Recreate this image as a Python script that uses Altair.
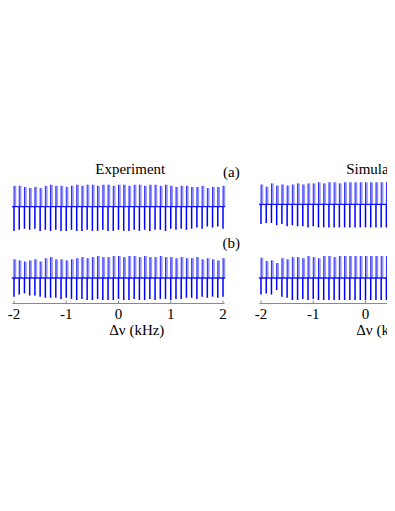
import altair as alt
import pandas as pd

# comb line frequencies (kHz)
freq = [round(-2 + 0.1 * i, 1) for i in range(41)]

# Experiment, trace (a): upward / downward excursions
exp_a_up = [0.95,0.95,0.9,0.85,0.9,0.85,0.95,1.0,0.95,0.95,0.9,0.95,1.0,0.95,1.0,1.0,0.95,1.0,1.0,0.95,1.0,
            1.0,0.95,1.0,1.0,0.95,1.0,1.0,0.95,1.0,0.95,0.9,0.95,0.95,0.9,0.9,0.95,0.85,0.9,0.9,0.95]
exp_a_dn = [1.1,1.05,1.0,1.05,1.0,1.1,1.05,1.1,1.05,1.1,1.1,1.05,1.1,1.1,1.05,1.1,1.1,1.05,1.1,1.1,1.05,
            1.1,1.1,1.05,1.1,1.05,1.1,1.05,1.05,1.1,1.0,1.05,1.0,1.05,1.0,0.95,1.0,0.9,0.95,0.9,1.0]
# Experiment, trace (b)
exp_b_up = [0.85,0.8,0.75,0.8,0.85,0.75,0.9,0.95,0.85,0.85,0.8,0.85,0.9,0.95,0.9,0.95,1.0,0.95,0.95,1.0,1.0,
            0.95,1.0,1.0,0.95,1.0,0.95,0.95,1.0,0.95,0.95,0.9,0.95,0.9,0.9,0.95,0.85,0.9,0.85,0.8,0.9]
exp_b_dn = [0.85,0.75,0.7,0.8,0.8,0.85,0.9,0.9,0.9,0.95,0.9,0.95,1.0,0.95,1.0,1.0,0.95,1.0,1.0,1.0,0.95,
            1.0,1.0,0.95,1.0,1.0,0.95,1.0,0.95,0.95,1.0,0.95,0.95,0.9,0.9,0.95,0.85,0.9,0.85,0.9,0.85]
# Simulation, trace (a)
sim_a_up = [0.9,0.8,0.95,0.85,0.9,0.85,0.9,0.95,0.9,0.95,0.95,1.0,0.95,1.0,1.0,0.95,1.0,1.0,1.0,1.0,1.0,
            1.0,1.0,1.0,1.0,1.0,1.0,1.0,1.0,1.0,1.0,1.0,1.0,1.0,1.0,1.0,1.0,1.0,1.0,1.0,1.0]
sim_a_dn = [0.9,0.85,0.85,0.95,0.9,1.0,0.95,1.0,1.0,1.05,1.0,1.05,1.05,1.05,1.05,1.05,1.05,1.05,1.05,1.05,1.05,
            1.05,1.05,1.05,1.05,1.05,1.05,1.05,1.05,1.05,1.05,1.05,1.05,1.05,1.05,1.05,1.05,1.05,1.05,1.05,1.05]
# Simulation, trace (b)
sim_b_up = [0.92,0.77,0.8,0.68,0.9,0.85,0.95,0.95,0.9,1.0,0.95,0.9,1.0,1.0,0.95,1.0,1.0,1.0,1.0,1.0,1.0,
            1.0,1.0,1.0,1.0,1.0,1.0,1.0,1.0,1.0,1.0,1.0,1.0,1.0,1.0,1.0,1.0,1.0,1.0,1.0,1.0]
sim_b_dn = [0.75,0.7,0.75,0.55,0.85,0.9,1.0,1.0,0.95,1.0,0.95,1.0,1.0,1.0,1.0,1.0,1.0,1.0,1.0,1.0,1.0,
            1.0,1.0,1.0,1.0,1.0,1.0,1.0,1.0,1.0,1.0,1.0,1.0,1.0,1.0,1.0,1.0,1.0,1.0,1.0,1.0]

tick_values = [-2, -1, 0, 1, 2]
tick_labels = ["-2", "-1", "0", "1", "2"]
panel_titles = ["Experiment", "Simulation"]
row_labels = ["(a)", "(b)"]
axis_title = "Δν (kHz)"

BLUE = "#0000ff"
SERIF = "Liberation Serif"

# layout (pixels)
W, H = 379, 337
PX_X = 52.25          # px per kHz
PX_Y = 22.0           # px per unit
X0 = -2 - 6 / PX_X    # domain start
SHIFT = 4.7273        # horizontal offset of the Simulation panel (kHz units)
Y_TOP = 270 / PX_Y
Y_BOT = -(H - 270) / PX_Y

xs = alt.Scale(domain=[X0, X0 + W / PX_X], nice=False, zero=False)
ys = alt.Scale(domain=[Y_BOT, Y_TOP], nice=False, zero=False)

# vertical anchors (units above trace (b) baseline)
OFF_A = {"Experiment": 3.24, "Simulation": 3.35}
AXIS_Y = -1.16
TICK_TOP = AXIS_Y + 3 / PX_Y
LABEL_Y = -1.91 + 1 / PX_Y
ATITLE_Y = -2.545 - 1.5 / PX_Y
TITLE_Y = 4.82 - 2 / PX_Y
ROWLAB_Y = [4.68 - 1.5 / PX_Y, 1.41 - 1 / PX_Y]

teeth, base_rows, axis_rows, tick_rows, title_rows = [], [], [], [], []
for name, shift, (a_up, a_dn, b_up, b_dn) in [
    ("Experiment", 0.0, (exp_a_up, exp_a_dn, exp_b_up, exp_b_dn)),
    ("Simulation", SHIFT, (sim_a_up, sim_a_dn, sim_b_up, sim_b_dn)),
]:
    for off, up, dn in [(OFF_A[name], a_up, a_dn), (0.0, b_up, b_dn)]:
        for f, u, d in zip(freq, up, dn):
            teeth.append(dict(x=f + shift, xl=f + shift + 0.022, base=off, top=off + u, bot=off - d))
        base_rows.append(dict(x0=-2.04 + shift, x1=2.04 + shift, y=off))
    axis_rows.append(dict(x0=-2.03 + shift, x1=2.03 + shift, y=AXIS_Y))
    for v, lab in zip(tick_values, tick_labels):
        tick_rows.append(dict(x=v + shift, y0=AXIS_Y, y1=TICK_TOP, ly=LABEL_Y, t=lab))
    title_rows.append(dict(x=0.26 + shift if name == "Simulation" else 0.225, y=TITLE_Y, t=name))
    title_rows.append(dict(x=0.35 + shift, y=ATITLE_Y, t=axis_title))

teeth_df = pd.DataFrame(teeth)
base_df = pd.DataFrame(base_rows)
axis_df = pd.DataFrame(axis_rows)
tick_df = pd.DataFrame(tick_rows)
title_df = pd.DataFrame(title_rows)
rowlab_df = pd.DataFrame({"t": row_labels, "x": [2.16, 2.16], "y": ROWLAB_Y})

X = lambda f: alt.X(f, scale=xs, axis=None)
Y = lambda f: alt.Y(f, scale=ys, axis=None)

baseline = alt.Chart(base_df).mark_rule(color=BLUE, strokeWidth=1.3, opacity=0.9, clip=True).encode(
    x=X("x0:Q"), x2="x1", y=Y("y:Q"))
light = alt.Chart(teeth_df).mark_rule(color=BLUE, opacity=0.42, strokeWidth=2.2, clip=True).encode(
    x=X("xl:Q"), y=Y("base:Q"), y2="top")
dark_up = alt.Chart(teeth_df).mark_rule(color=BLUE, opacity=0.8, strokeWidth=1.0, clip=True).encode(
    x=X("x:Q"), y=Y("base:Q"), y2="top")
dark_dn = alt.Chart(teeth_df).mark_rule(color=BLUE, strokeWidth=1.5, clip=True).encode(
    x=X("x:Q"), y=Y("base:Q"), y2="bot")
axis_line = alt.Chart(axis_df).mark_rule(color="#8a8a8a", strokeWidth=1.2, clip=True).encode(
    x=X("x0:Q"), x2="x1", y=Y("y:Q"))
ticks = alt.Chart(tick_df).mark_rule(color="#8a8a8a", strokeWidth=1.0, clip=True).encode(
    x=X("x:Q"), y=Y("y0:Q"), y2="y1")
tick_text = alt.Chart(tick_df).mark_text(font=SERIF, fontSize=15, baseline="alphabetic", color="black",
                                         clip=True).encode(x=X("x:Q"), y=Y("ly:Q"), text="t:N")
titles = alt.Chart(title_df).mark_text(font=SERIF, fontSize=15, baseline="alphabetic", color="black",
                                       clip=True).encode(x=X("x:Q"), y=Y("y:Q"), text="t:N")
rowlabs = alt.Chart(rowlab_df).mark_text(font=SERIF, fontSize=15, baseline="alphabetic", color="black",
                                         clip=True).encode(x=X("x:Q"), y=Y("y:Q"), text="t:N")

chart = alt.layer(baseline, light, dark_up, dark_dn, axis_line, ticks, tick_text, titles, rowlabs).properties(
    width=W, height=H, padding=0, autosize=alt.AutoSizeParams(type="none")
).configure_view(stroke=None)

chart.save("out.html", embed_options={"renderer": "svg", "actions": False})
